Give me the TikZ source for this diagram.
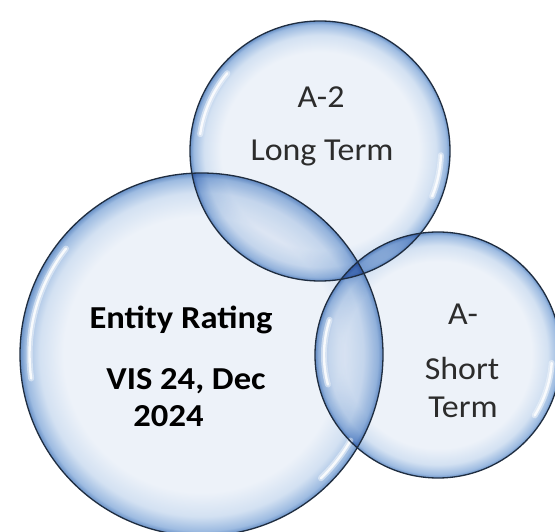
\documentclass[tikz,border=0pt]{standalone}
\usepackage{fontspec}
\setmainfont{Carlito}
\definecolor{bubIn}{HTML}{EDF2F9}
\definecolor{bubMid}{HTML}{D3E1F2}
\definecolor{bubRim}{HTML}{9DBBE1}
\definecolor{bubEdge}{HTML}{6890C6}
\definecolor{rimc}{HTML}{1F2D40}
\definecolor{txt}{HTML}{2C2C2C}
\pgfdeclareradialshading{bubble}{\pgfpointorigin}{color(0bp)=(bubIn); color(19bp)=(bubIn); color(22.3bp)=(bubMid); color(24.3bp)=(bubRim); color(25bp)=(bubEdge); color(50bp)=(bubEdge)}
\begin{document}
\begin{tikzpicture}[x=1pt,y=1pt,
  bub/.style={circle, inner sep=0pt, outer sep=0pt, shade, shading=bubble},
  rimline/.style={draw=rimc, line width=1.3pt},
  hlsoft/.style={white, line width=6pt, line cap=round, opacity=0.45},
  hl/.style={white, line width=2.4pt, line cap=round, opacity=0.85},
  lbl/.style={font=\fontsize{32}{38}\selectfont, text=txt, anchor=base, inner sep=0pt, xscale=1.06},
  blbl/.style={font=\bfseries\fontsize{32}{38}\selectfont, text=black, anchor=base, inner sep=0pt, xscale=1.08}]
\useasboundingbox (0,0) rectangle (555,531);
\clip (0,0) rectangle (555,531);
\fill[white] (0,0) rectangle (555,531);
\begin{scope}[blend group=multiply]
  \node[bub, minimum size=363pt] (B) at (201.5,176.5) {};
  \node[bub, minimum size=260pt] (T) at (320,380) {};
  \node[bub, minimum size=246pt] (R) at (438,176) {};
\end{scope}
% highlights
\foreach \n/\r/\a/\b in {B/172/142/188, B/172/-30/-46, T/121/140/172, T/121/-2/-22, R/114/-4/-32, R/114/162/195}{
  \draw[hlsoft] ([shift={(\a:\r)}]\n.center) arc[start angle=\a, end angle=\b, radius=\r];
  \draw[hl] ([shift={(\a:\r)}]\n.center) arc[start angle=\a, end angle=\b, radius=\r];
}
% outlines
\draw[rimline] (B.center) circle[radius=181.5];
\draw[rimline] (T.center) circle[radius=130];
\draw[rimline] (R.center) circle[radius=123];
% texts
\node[lbl] (t1) at (321,423.7) {A-2};
\node[lbl] (t2) at (322,370) {Long Term};
\node[blbl] (b1) at (181,202.7) {Entity Rating};
\node[blbl] (b2) at (186,141.7) {VIS 24, Dec};
\node[blbl] (b3) at (168.5,104.3) {2024};
\node[lbl] (r1) at (463,206) {A-};
\node[lbl] (r2) at (462,151.7) {Short};
\node[lbl] (r3) at (463,113.7) {Term};
\end{tikzpicture}
\end{document}
